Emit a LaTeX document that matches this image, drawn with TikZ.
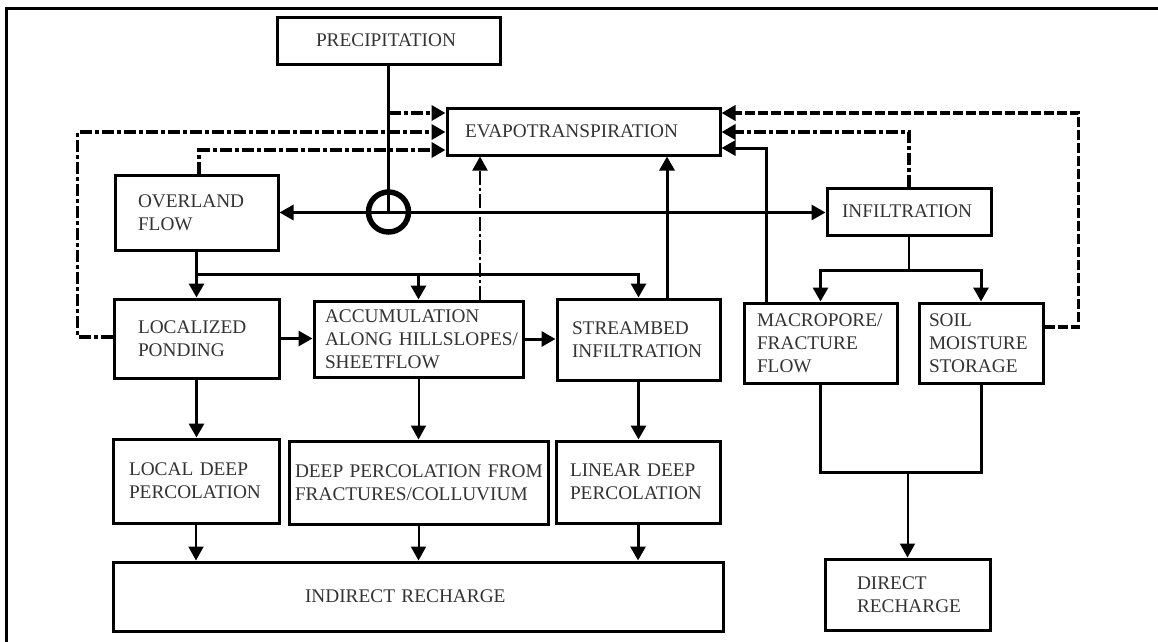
\documentclass[tikz,border=0pt]{standalone}
\usepackage{fontspec}
\setmainfont{Liberation Serif}
\usetikzlibrary{arrows.meta,calc}

\begin{document}
\begin{tikzpicture}[x=1pt,y=-1pt,
  box/.style={draw, line width=3pt, rectangle, align=left, inner ysep=0pt,
    font=\fontsize{19.3}{23.2}\selectfont, text=black!80},
  tip/.style={-{Triangle[length=14pt,width=15pt]}},
  flow/.style={line width=3pt, tip},
  thinflow/.style={line width=2pt, tip},
  ddot/.style={line width=3.5pt, dash pattern=on 12pt off 3pt on 4pt off 3pt},
  thinddot/.style={line width=2pt, dash pattern=on 14pt off 3pt on 3pt off 3pt},
  longdash/.style={line width=3.5pt, dash pattern=on 10pt off 3pt},
]
\useasboundingbox (0,0) rectangle (1158,641);

% frame
\begin{scope}
  \clip (0,0) rectangle (1158,641);
  \draw[line width=3.5pt] (6.5,700) -- (6.5,8.5) -- (1200,8.5);
\end{scope}

% boxes
\node[box, minimum height=47pt, inner xsep=39pt, text width=145pt] (precip) at (388.5,40.5) {\mbox{PRECIPITATION}};
\node[box, minimum height=47pt, inner xsep=18pt, text width=237pt] (evap) at (583.5,131.5) {\mbox{EVAPOTRANSPIRATION}};
\node[box, minimum height=75pt, inner xsep=23pt, text width=117pt] (ovf) at (196.5,212.5) {OVERLAND\\FLOW};
\node[box, minimum height=47pt, inner xsep=15pt, text width=134pt] (infil) at (909,211.5) {\mbox{INFILTRATION}};
\node[box, minimum height=79pt, inner xsep=24pt, text width=117pt] (pond) at (196.5,338.5) {LOCALIZED\\PONDING};
\node[box, minimum height=76pt, inner xsep=11pt, text width=187pt] (accum) at (418.5,339) {ACCUMULATION\\\mbox{ALONG HILLSLOPES/}\\SHEETFLOW};
\node[box, minimum height=81pt, inner xsep=15pt, text width=133pt] (stream) at (638.5,339.5) {STREAMBED\\\mbox{INFILTRATION}};
\node[box, minimum height=80pt, inner xsep=13pt, text width=127pt] (macro) at (820.5,343) {\mbox{MACROPORE/}\\FRACTURE\\FLOW};
\node[box, minimum height=80pt, inner xsep=10pt, text width=104pt] (soil) at (981,343) {SOIL\\MOISTURE\\STORAGE};
\node[box, minimum height=84pt, inner xsep=16pt, text width=134pt] (ldp) at (196,481) {\mbox{LOCAL DEEP}\\\mbox{PERCOLATION}};
\node[box, minimum height=83pt, inner xsep=6pt, text width=247pt] (dpf) at (418.5,482.5) {\mbox{DEEP PERCOLATION FROM}\\\mbox{FRACTURES/COLLUVIUM}};
\node[box, minimum height=82pt, inner xsep=14pt, text width=136pt] (lin) at (638,482) {\mbox{LINEAR DEEP}\\\mbox{PERCOLATION}};
\node[box, minimum height=69pt, inner xsep=192pt, text width=226pt] (indirect) at (418,596.5) {\mbox{INDIRECT RECHARGE}};
\node[box, minimum height=71pt, inner xsep=32pt, text width=101pt] (direct) at (907.5,594.5) {DIRECT\\\mbox{RECHARGE}};

% junction of precipitation with overland flow and infiltration
\node[circle, draw, line width=5.5pt, minimum size=40pt, inner sep=0pt] (junc) at (388.5,212) {};
\draw[line width=3pt] (precip.south) -- (junc.center);
\draw[line width=3pt, {Triangle[length=14pt,width=15pt]}-{Triangle[length=14pt,width=15pt]}]
  (ovf.east) -- (ovf.east -| infil.west);

% losses to evapotranspiration, left side
\draw[ddot, tip] (precip.south |- 0,113) -- (evap.west |- 0,113);
\draw[ddot, tip] (pond.west |- 0,337) -- ++(-35,0) |- (evap.west |- 0,132);
\draw[ddot, tip] ([xshift=2.5pt]ovf.north) |- (evap.west |- 0,150);

% losses to evapotranspiration, from below
\draw[thinddot, tip] (accum.north -| 480,0) -- (evap.south -| 480,0);
\draw[flow] (stream.north -| 667,0) -- (evap.south -| 667,0);

% losses to evapotranspiration, right side
\draw[flow] (macro.north -| 766,0) |- (evap.east |- 0,148);
\draw[ddot, tip] (infil.north) |- (evap.east |- 0,132);
\draw[longdash, tip] (soil.east |- 0,327) -- ++(34,0) |- (evap.east |- 0,113);

% overland flow routing
\draw[flow] (ovf.south) -- (pond.north);
\draw[flow] (ovf.south |- 0,274) -| (stream.north);
\draw[flow] (accum.north |- 0,274) -- (accum.north);
\draw[flow] (pond.east) -- (pond.east -| accum.west);
\draw[flow] (accum.east) -- (accum.east -| stream.west);

% deep percolation
\draw[flow] (pond.south) -- (pond.south |- ldp.north);
\draw[thinflow] (accum.south) -- (dpf.north);
\draw[flow] (stream.south) -- (stream.south |- lin.north);
\draw[thinflow] (ldp.south) -- (ldp.south |- indirect.north);
\draw[thinflow] (dpf.south) -- (dpf.south |- indirect.north);
\draw[flow] (lin.south) -- (lin.south |- indirect.north);

% infiltration split and direct recharge
\draw[line width=2pt] (infil.south) -- (infil.south |- 0,270) coordinate (split);
\draw[flow] (split) -| (macro.north);
\draw[flow] (split) -| (soil.north);
\draw[line width=3pt] (macro.south) -- (macro.south |- 0,472) -| (soil.south);
\draw[thinflow] (direct.north |- 0,472) -- (direct.north);
\end{tikzpicture}
\end{document}
